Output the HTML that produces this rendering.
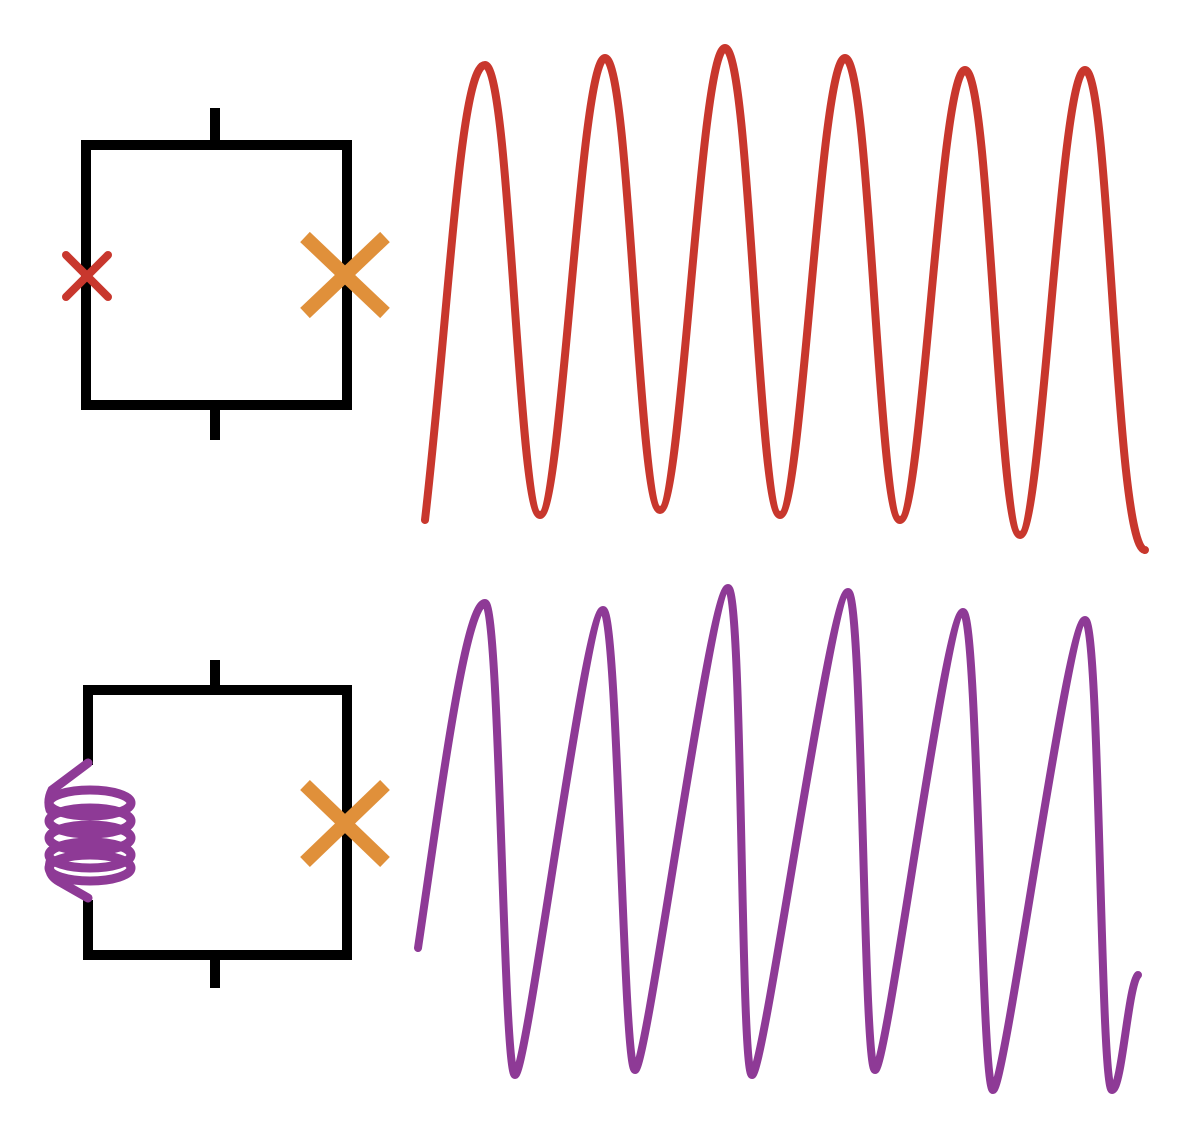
<!DOCTYPE html>
<html><head><style>html,body{margin:0;padding:0;background:#fff;}svg{display:block}</style></head>
<body>
<svg width="1193" height="1137" viewBox="0 0 1193 1137" xmlns="http://www.w3.org/2000/svg">
<g fill="none" stroke="#000" stroke-width="10">
<rect x="86" y="145" width="261" height="260"/>
<line x1="215" y1="108" x2="215" y2="145"/>
<line x1="215" y1="405" x2="215" y2="440"/>
<polyline points="88,765 88,690 347,690 347,955 88,955 88,900"/>
<line x1="215" y1="660" x2="215" y2="690"/>
<line x1="215" y1="955" x2="215" y2="988"/>
</g>
<g stroke="#c8372d" stroke-width="8" stroke-linecap="round">
<line x1="66" y1="255" x2="108" y2="297"/><line x1="108" y1="255" x2="66" y2="297"/>
</g>
<g stroke="#e0903a" stroke-width="14">
<line x1="305" y1="237" x2="385" y2="313"/><line x1="385" y1="237" x2="305" y2="313"/>
<line x1="305" y1="785" x2="385" y2="862"/><line x1="385" y1="785" x2="305" y2="862"/>
</g>
<g fill="none" stroke="#8e3a96" stroke-width="9" stroke-linecap="round">
<path d="M88,763 L52,790 Q47,800 50,810 M50,862 Q47,875 60,882 L88,898"/>
<ellipse cx="90" cy="803" rx="41" ry="13"/>
<ellipse cx="90" cy="821" rx="41" ry="13"/>
<ellipse cx="90" cy="838" rx="41" ry="13"/>
<ellipse cx="90" cy="855" rx="41" ry="13"/>
<ellipse cx="90" cy="868" rx="41" ry="13"/>
</g>
<path fill="none" stroke="#c8372d" stroke-width="8" stroke-linecap="round" d="M425,520 C450,300 460,65 485,65 C510,65 518,515 540,515 C562,515 580,58 605,58 C630,58 638,510 660,510 C682,510 700,48 725,48 C750,48 758,515 780,515 C802,515 820,58 845,58 C870,58 878,520 900,520 C922,520 940,70 965,70 C990,70 998,535 1020,535 C1042,535 1060,70 1085,70 C1110,70 1115,550 1145,550"/>
<path fill="none" stroke="#8e3a96" stroke-width="8" stroke-linecap="round" d="M418,948 C440,800 465,603 485,603 C500,603 503,1075 515,1075 C527,1075 585,610 603,610 C618,610 623,1070 635,1070 C647,1070 710,588 728,588 C743,588 740,1075 752,1075 C764,1075 830,592 848,592 C863,592 863,1070 875,1070 C887,1070 945,612 963,612 C978,612 981,1090 993,1090 C1005,1090 1067,620 1085,620 C1100,620 1100,1090 1112,1090 C1122,1090 1128,985 1138,975"/>
</svg>
</body></html>
